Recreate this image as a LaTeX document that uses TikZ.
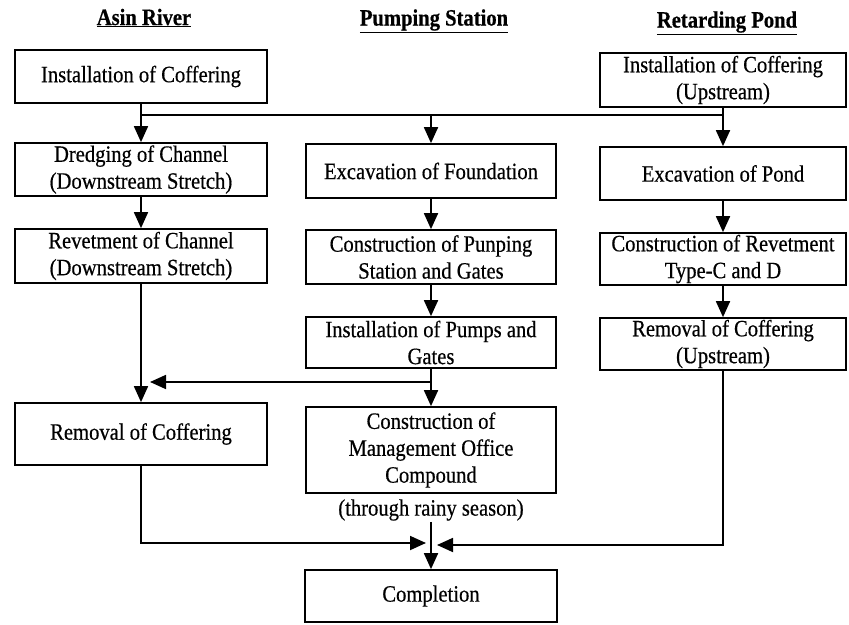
\documentclass[tikz,border=0pt]{standalone}
\usepackage{fontspec}
\setmainfont{Liberation Serif}[FakeStretch=0.88,FakeBold=0.5]
\usetikzlibrary{arrows.meta}
\begin{document}
\begin{tikzpicture}[x=1bp,y=-1bp,
  box/.style={draw,line width=1.7bp,align=center,inner sep=0pt,
    minimum width=252bp,font=\fontsize{23.5}{27}\selectfont},
  head/.style={font=\fontsize{23.5}{27}\selectfont\bfseries},
  conn/.style={line width=1.8bp},
  flow/.style={conn,-{Triangle[length=16bp,width=14bp]}}]
\useasboundingbox (0,0) rectangle (849,625);
% column headers
\node[head] (hA) at (144,18) {\underline{Asin River}};
\node[head] (hB) at (434,21) {\underline{Pumping Station}};
\node[head] (hC) at (727,23) {\underline{Retarding Pond}};
% Asin River
\node[box,minimum height=53bp] (A1) at (141,76.5) {Installation of Coffering};
\node[box,minimum height=53bp] (A2) at (141,169.5) {Dredging of Channel\\(Downstream Stretch)};
\node[box,minimum height=54bp] (A3) at (141,256) {Revetment of Channel\\(Downstream Stretch)};
\node[box,minimum height=62bp] (A4) at (141,434) {Removal of Coffering};
% Pumping Station
\node[box,minimum width=250bp,minimum height=54bp] (B1) at (431,171) {Excavation of Foundation};
\node[box,minimum width=250bp,minimum height=54bp] (B2) at (431,257) {Construction of Punping\\Station and Gates};
\node[box,minimum width=250bp,minimum height=51bp] (B3) at (431,342.5) {Installation of Pumps and\\Gates};
\node[box,minimum width=250bp,minimum height=86bp] (B4) at (431,450) {Construction of\\Management Office\\Compound};
\node[font=\fontsize{23.5}{27}\selectfont,inner sep=1bp] (rainy) at (431,510) {(through rainy season)};
\node[box,minimum width=252bp,minimum height=52bp] (done) at (431,596) {Completion};
% Retarding Pond
\node[box,minimum width=246bp,minimum height=54bp] (C1) at (723,80) {Installation of Coffering\\(Upstream)};
\node[box,minimum width=246bp,minimum height=53bp] (C2) at (723,173.5) {Excavation of Pond};
\node[box,minimum width=246bp,minimum height=52bp] (C3) at (723,259) {Construction of Revetment\\Type-C and D};
\node[box,minimum width=246bp,minimum height=52bp] (C4) at (723,344) {Removal of Coffering\\(Upstream)};
% junction points
\coordinate (tL) at (141,115);
\coordinate (tM) at (431,115);
\coordinate (tR) at (723,115);
\coordinate (jB) at (431,382);
\coordinate (fb) at (150,382);
\coordinate (mL) at (426,543);
\coordinate (mR) at (437,545);
% connectors
\draw[flow] (A1) -- (A2);
\draw[conn] (tL) -- (tR);
\draw[flow] (tM) -- (B1);
\draw[flow] (C1) -- (C2);
\draw[flow] (A2) -- (A3);
\draw[flow] (A3) -- (A4);
\draw[flow] (B1) -- (B2);
\draw[flow] (B2) -- (B3);
\draw[flow] (B3) -- (B4);
\draw[flow] (jB) -- (fb);
\draw[flow] (C2) -- (C3);
\draw[flow] (C3) -- (C4);
\draw[flow] (A4.south) |- (mL);
\draw[flow] (C4.south) |- (mR);
\draw[flow] (rainy) -- (done);
\end{tikzpicture}
\end{document}
